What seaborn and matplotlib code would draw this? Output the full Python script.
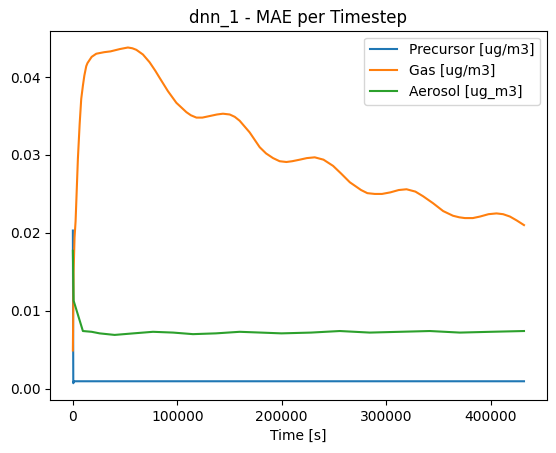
import pandas as pd
import matplotlib
matplotlib.use("Agg")
import matplotlib.pyplot as plt
import seaborn as sns

# === DATA ===
precursor_t = [0, 400, 900, 50000, 150000, 250000, 350000, 432000]
precursor_mae = [0.0203, 0.0007, 0.00095, 0.00095, 0.00095, 0.00095, 0.00095, 0.00095]

gas_t = [0, 700, 1600, 2600, 4800, 6500, 8000, 9600, 11000, 12800, 14000, 16000, 18000,
         22400, 30000, 36000, 45000, 52700, 57000, 60800, 67100, 73500, 79000, 83100,
         91000, 99100, 108700, 113000, 118300, 124000, 131000, 138000, 143700, 150200,
         155000, 159700, 169300, 178900, 185000, 191700, 198000, 204500, 210000,
         217300, 224000, 231600, 240000, 249200, 257000, 265200, 276000, 282000,
         289100, 296000, 304000, 312000, 319500, 328000, 335400, 345000, 354600, 364000,
         370000, 375400, 383000, 390000, 398000, 405700, 412000, 418500, 425000, 432000]
gas_mae = [0.0049, 0.0150, 0.0194, 0.0215, 0.0295, 0.0340, 0.0372, 0.0389, 0.0402,
           0.0414, 0.0418, 0.0422, 0.0426, 0.0430, 0.0432, 0.0433, 0.0436, 0.0438,
           0.0437, 0.0435, 0.0429, 0.0419, 0.0408, 0.0399, 0.0382, 0.0367, 0.0355,
           0.0351, 0.0348, 0.0348, 0.0350, 0.0352, 0.0353, 0.0352, 0.0349, 0.0344,
           0.0329, 0.0310, 0.0302, 0.0296, 0.0292, 0.0291, 0.0292, 0.0294, 0.0296,
           0.0297, 0.0294, 0.0286, 0.0276, 0.0265, 0.0255, 0.0251, 0.0250, 0.0250,
           0.0252, 0.0255, 0.0256, 0.0253, 0.0247, 0.0238, 0.0228, 0.0222, 0.0220,
           0.0219, 0.0219, 0.0221, 0.0224, 0.0225, 0.0224, 0.0221, 0.0216, 0.0210]

aerosol_t = [0, 700, 9600, 18000, 25600, 40000, 58000, 76700, 96000, 115000, 137000,
             159700, 180000, 199700, 228000, 255600, 284300, 313000, 341800, 370600,
             400000, 432000]
aerosol_mae = [0.0177, 0.0113, 0.0074, 0.0073, 0.0071, 0.0069, 0.0071, 0.0073, 0.0072,
               0.0070, 0.0071, 0.0073, 0.0072, 0.0071, 0.0072, 0.0074, 0.0072, 0.0073,
               0.0074, 0.0072, 0.0073, 0.0074]

series = [
    ("Precursor [ug/m3]", precursor_t, precursor_mae, "C0"),
    ("Gas [ug/m3]", gas_t, gas_mae, "C1"),
    ("Aerosol [ug_m3]", aerosol_t, aerosol_mae, "C2"),
]

# === PLOTTING ===
fig = plt.figure(figsize=(5.56, 4.53), dpi=100)
ax = fig.add_axes([0.0905, 0.117, 0.8925, 0.8152])

for label, t, v, c in series:
    df = pd.DataFrame({"Time": t, "MAE": v})
    sns.lineplot(data=df, x="Time", y="MAE", ax=ax, color=c, label=label,
                 linewidth=1.5, sort=False, estimator=None)

ax.set_title("dnn_1 - MAE per Timestep")
ax.set_xlabel("Time [s]")
ax.set_ylabel("")
ax.legend(loc="upper right")

plt.savefig("out.png", dpi=100)
